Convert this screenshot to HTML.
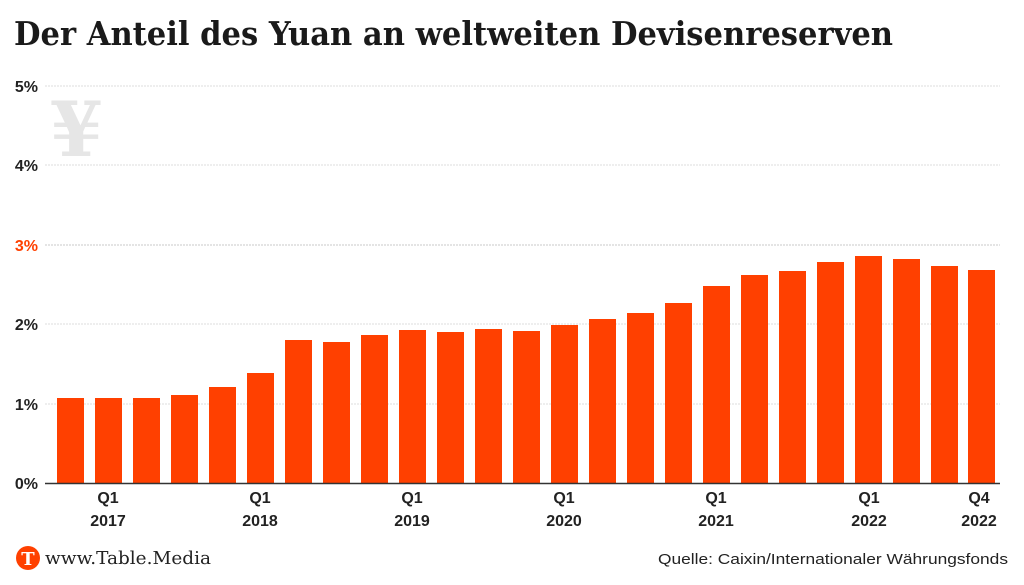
<!DOCTYPE html>
<html><head><meta charset="utf-8"><style>
html,body{margin:0;padding:0;background:#fff;}
svg{display:block;}
</style></head><body>
<svg width="1024" height="585" viewBox="0 0 1024 585" xmlns="http://www.w3.org/2000/svg">
<text x="14" y="45" font-family="'DejaVu Serif','Liberation Serif',serif" font-weight="bold" font-size="33" fill="#1a1a1a" textLength="879" lengthAdjust="spacingAndGlyphs">Der Anteil des Yuan an weltweiten Devisenreserven</text>
<text x="50" y="156" font-family="'DejaVu Serif',serif" font-weight="bold" font-size="76" fill="#e6e6e6">¥</text>
<g stroke="#dcdcdc" stroke-width="1" stroke-dasharray="2,1">
<line x1="45" y1="86" x2="1000" y2="86"/>
<line x1="45" y1="165" x2="1000" y2="165"/>
<line x1="45" y1="245" x2="1000" y2="245" stroke="#c8c8c8"/>
<line x1="45" y1="324" x2="1000" y2="324"/>
<line x1="45" y1="404" x2="1000" y2="404"/>
</g>
<g font-family="'Liberation Sans',sans-serif" font-weight="bold" font-size="16" fill="#222" text-anchor="end">
<text x="38" y="92">5%</text>
<text x="38" y="171">4%</text>
<text x="38" y="251" fill="#ff4000">3%</text>
<text x="38" y="330">2%</text>
<text x="38" y="410">1%</text>
<text x="38" y="489">0%</text>
</g>
<g fill="#ff4000">
<rect x="57" y="398" width="27" height="85"/>
<rect x="95" y="398" width="27" height="85"/>
<rect x="133" y="398" width="27" height="85"/>
<rect x="171" y="395" width="27" height="88"/>
<rect x="209" y="387" width="27" height="96"/>
<rect x="247" y="373" width="27" height="110"/>
<rect x="285" y="340" width="27" height="143"/>
<rect x="323" y="342" width="27" height="141"/>
<rect x="361" y="335" width="27" height="148"/>
<rect x="399" y="330" width="27" height="153"/>
<rect x="437" y="332" width="27" height="151"/>
<rect x="475" y="329" width="27" height="154"/>
<rect x="513" y="331" width="27" height="152"/>
<rect x="551" y="325" width="27" height="158"/>
<rect x="589" y="319" width="27" height="164"/>
<rect x="627" y="313" width="27" height="170"/>
<rect x="665" y="303" width="27" height="180"/>
<rect x="703" y="286" width="27" height="197"/>
<rect x="741" y="275" width="27" height="208"/>
<rect x="779" y="271" width="27" height="212"/>
<rect x="817" y="262" width="27" height="221"/>
<rect x="855" y="256" width="27" height="227"/>
<rect x="893" y="259" width="27" height="224"/>
<rect x="931" y="266" width="27" height="217"/>
<rect x="968" y="270" width="27" height="213"/>
</g>
<line x1="45" y1="483.5" x2="1000" y2="483.5" stroke="#333" stroke-width="1.5"/>
<g font-family="'Liberation Sans',sans-serif" font-weight="bold" font-size="16" fill="#222" text-anchor="middle">
<text x="108" y="503">Q1</text><text x="108" y="526">2017</text>
<text x="260" y="503">Q1</text><text x="260" y="526">2018</text>
<text x="412" y="503">Q1</text><text x="412" y="526">2019</text>
<text x="564" y="503">Q1</text><text x="564" y="526">2020</text>
<text x="716" y="503">Q1</text><text x="716" y="526">2021</text>
<text x="869" y="503">Q1</text><text x="869" y="526">2022</text>
<text x="979" y="503">Q4</text><text x="979" y="526">2022</text>
</g>
<circle cx="28" cy="558" r="12" fill="#ff4000"/>
<text x="28" y="565" font-family="'DejaVu Serif',serif" font-weight="bold" font-size="18" fill="#fff" text-anchor="middle">T</text>
<text x="45" y="564" font-family="'DejaVu Serif','Liberation Serif',serif" font-size="18" fill="#222" textLength="166" lengthAdjust="spacingAndGlyphs">www.Table.Media</text>
<text x="1008" y="564" font-family="'Liberation Sans',sans-serif" font-size="15" fill="#222" text-anchor="end" textLength="350" lengthAdjust="spacingAndGlyphs">Quelle: Caixin/Internationaler Währungsfonds</text>
</svg>
</body></html>
